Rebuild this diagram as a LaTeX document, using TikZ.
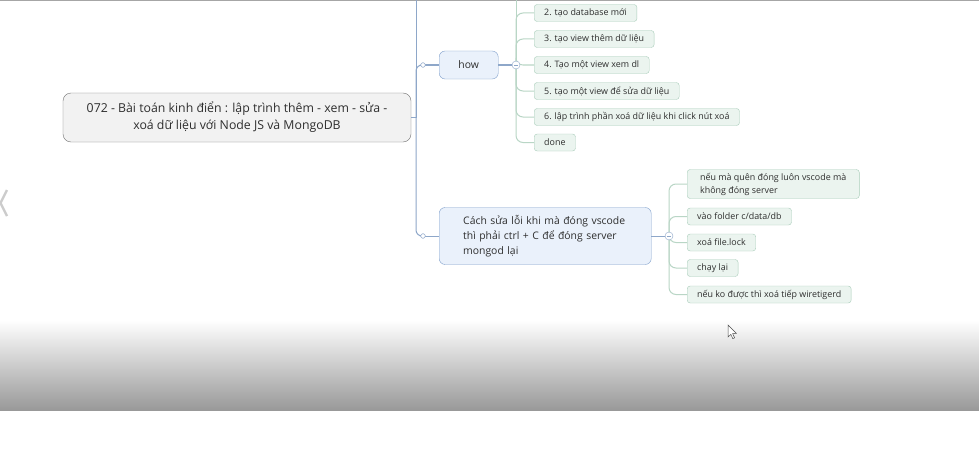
\documentclass[tikz,border=0pt]{standalone}
\usepackage{fontspec}
\setmainfont{Open Sans}
\definecolor{trunkblue}{HTML}{8EA7C9}
\definecolor{branchfill}{HTML}{EAF1FB}
\definecolor{branchedge}{HTML}{7F9FCB}
\definecolor{leaffill}{HTML}{EBF4EF}
\definecolor{leafedge}{HTML}{A9CDBA}
\definecolor{leafline}{HTML}{B9D6C6}
\definecolor{inkgray}{HTML}{2E2E2E}
\tikzset{
  rootbox/.style={draw=black!55, fill=black!5, rounded corners=8pt, minimum width=348pt,
    minimum height=49pt, align=center, text=inkgray, font=\fontsize{12.3}{17}\selectfont},
  branchbox/.style={draw=branchedge, fill=branchfill, rounded corners=6pt, anchor=west,
    text=inkgray, font=\fontsize{10.4}{15}\selectfont},
  leafbox/.style={draw=leafedge, fill=leaffill, rounded corners=3pt, anchor=west,
    inner xsep=10pt, inner ysep=0pt, minimum height=17pt, text=inkgray,
    font=\fontsize{8.9}{13}\selectfont},
  trunk/.style={draw=trunkblue, line width=1pt},
  twig/.style={draw=leafline, line width=1pt, rounded corners=7pt},
  dot/.style={circle, draw=trunkblue, fill=white, inner sep=0pt, minimum size=4.5pt},
  knob/.style={circle, draw=trunkblue, fill=white, inner sep=0pt, minimum size=8pt,
    path picture={\draw[trunkblue] ([xshift=-2pt]path picture bounding box.center)
      -- ([xshift=2pt]path picture bounding box.center);}}
}
\begin{document}
\begin{tikzpicture}[x=1pt, y=-1pt]
  \useasboundingbox (0,0) rectangle (979,460);
  % Background and window edges
  \fill[white] (0,0) rectangle (979,460);
  \fill[black!35] (0,0) rectangle (979,1.5);
  \shade[top color=white, bottom color=black!40] (0,320) rectangle (979,410);
  \draw[black!20, line width=2.4pt] (7,190) -- (0.5,203) -- (7,216);

  % Root topic
  \node[rootbox] (root) at (237,117.5)
    {072 - Bài toán kinh điển : lập trình thêm - xem - sửa -\\
     xoá dữ liệu với Node JS và MongoDB};

  % Main branches
  \node[branchbox, minimum width=59pt, minimum height=28pt, inner xsep=0pt] (how) at (439,65) {how};
  \node[branchbox, align=left, text width=164pt, inner xsep=24pt, minimum height=57pt] (fix) at (439,236)
    {Cách sửa lỗi khi mà đóng vscode\\ thì phải ctrl + C để đóng server\\ mongod lại};

  % Trunk
  \coordinate (rootjoin) at (416,117.5);
  \coordinate (trunktop) at (416,0);
  \node[dot] (howdot) at (423,65) {};
  \node[dot] (fixdot) at (423,236) {};
  \draw[trunk] (root.east) -- (rootjoin);
  \draw[trunk] (rootjoin) -- (trunktop);
  \draw[trunk, rounded corners=6pt] (rootjoin) |- (howdot);
  \draw[trunk, rounded corners=6pt] (rootjoin) |- (fixdot);
  \draw[trunk] (howdot) -- (how.west);
  \draw[trunk] (fixdot) -- (fix.west);
  \node[dot] at (howdot) {};
  \node[dot] at (fixdot) {};

  % Steps under "how"
  \node[leafbox] (s2) at (534,13) {2. tạo database mới};
  \node[leafbox] (s3) at (534,39) {3. tạo view thêm dữ liệu};
  \node[leafbox] (s4) at (534,65) {4. Tạo một view xem dl};
  \node[leafbox] (s5) at (534,91) {5. tạo một view để sửa dữ liệu};
  \node[leafbox] (s6) at (534,117) {6. lập trình phần xoá dữ liệu khi click nút xoá};
  \node[leafbox] (s7) at (534,142.5) {done};
  \coordinate (howknobpos) at (516,65);
  \coordinate (howtop) at (516,0);
  \draw[trunk] (how.east) -- (howknobpos);
  \draw[twig] (howknobpos) -- (howtop);
  \foreach \s in {s2,s3,s4,s5,s6,s7}
    \draw[twig] (howknobpos) |- (\s.west);
  \node[knob] (howknob) at (howknobpos) {};

  % Fixes for mongod
  \node[leafbox, align=left, inner xsep=13pt, minimum height=29pt] (f1) at (687,184)
    {nếu mà quên đóng luôn vscode mà\\ không đóng server};
  \node[leafbox] (f2) at (687,216.5) {vào folder c/data/db};
  \node[leafbox] (f3) at (687,242.5) {xoá file.lock};
  \node[leafbox] (f4) at (687,268) {chạy lại};
  \node[leafbox] (f5) at (687,294.5) {nếu ko được thì xoá tiếp wiretigerd};
  \coordinate (fixknobpos) at (669,236);
  \draw[trunk] (fix.east) -- (fixknobpos);
  \foreach \f in {f1,f2,f3,f4,f5}
    \draw[twig] (fixknobpos) |- (\f.west);
  \node[knob] (fixknob) at (fixknobpos) {};

  % Mouse pointer
  \filldraw[fill=white, draw=black!70, line width=0.5pt]
    (728,325) -- (728,337) -- (730.8,334.4) -- (732.8,338.6) -- (734.6,337.8)
    -- (732.6,333.6) -- (736.4,333.4) -- cycle;
\end{tikzpicture}
\end{document}
